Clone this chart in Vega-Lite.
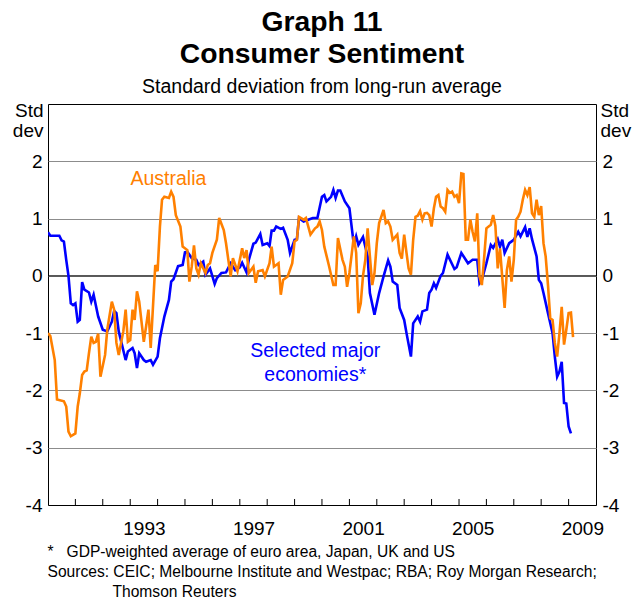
{
"$schema": "https://vega.github.io/schema/vega-lite/v6.json",
"width": 548,
"height": 401,
"autosize": {"type": "none"},
"padding": {"left": 48, "top": 104, "right": 38, "bottom": 93},
"background": "white",
"config": {
  "font": "Liberation Sans",
  "view": {"stroke": "black", "strokeWidth": 1},
  "axis": {"labelColor": "black", "titleColor": "black", "labelFontSize": 19, "titleFontSize": 19, "titleFontWeight": "normal"},
  "axisX": {
    "tickCount": {"interval": "year", "step": 1},
    "labelExpr": "utcyear(datum.value) % 4 == 1 ? '' + utcyear(datum.value) : ''",
    "labelOffset": 13.7,
    "labelOverlap": false,
    "labelFlush": false,
    "labelBound": false,
    "labelFontSize": 19,
    "labelPadding": 14,
    "ticks": false,
    "domainColor": "black",
    "domainWidth": 1,
    "grid": false,
    "titleX": -1,
    "titleY": 51,
    "titleAlign": "left",
    "titleAnchor": "start",
    "titleBaseline": "alphabetic",
    "titleFontSize": 15.6,
    "titleLineHeight": 20
  }
},
"title": {
  "text": ["Graph 11", "Consumer Sentiment"],
  "subtitle": "Standard deviation from long-run average",
  "fontSize": 28.3,
  "fontWeight": "bold",
  "lineHeight": 32,
  "color": "black",
  "subtitleFontSize": 19.5,
  "subtitleColor": "black",
  "subtitlePadding": 8,
  "anchor": "middle",
  "frame": "group",
  "offset": 4
},
"datasets": {
"series": [
{"date":"1990-01","series":"Selected major economies","value":0.76},
{"date":"1990-02","series":"Selected major economies","value":0.70},
{"date":"1990-06","series":"Selected major economies","value":0.70},
{"date":"1990-07","series":"Selected major economies","value":0.62},
{"date":"1990-08","series":"Selected major economies","value":0.60},
{"date":"1990-09","series":"Selected major economies","value":0.28},
{"date":"1990-10","series":"Selected major economies","value":0.0},
{"date":"1990-11","series":"Selected major economies","value":-0.48},
{"date":"1990-12","series":"Selected major economies","value":-0.51},
{"date":"1991-01","series":"Selected major economies","value":-0.48},
{"date":"1991-02","series":"Selected major economies","value":-0.80},
{"date":"1991-03","series":"Selected major economies","value":-0.77},
{"date":"1991-04","series":"Selected major economies","value":-0.11},
{"date":"1991-05","series":"Selected major economies","value":-0.24},
{"date":"1991-07","series":"Selected major economies","value":-0.29},
{"date":"1991-08","series":"Selected major economies","value":-0.45},
{"date":"1991-09","series":"Selected major economies","value":-0.33},
{"date":"1991-11","series":"Selected major economies","value":-0.71},
{"date":"1992-01","series":"Selected major economies","value":-0.94},
{"date":"1992-03","series":"Selected major economies","value":-0.97},
{"date":"1992-05","series":"Selected major economies","value":-0.80},
{"date":"1992-06","series":"Selected major economies","value":-0.61},
{"date":"1992-07","series":"Selected major economies","value":-0.65},
{"date":"1992-08","series":"Selected major economies","value":-0.97},
{"date":"1992-11","series":"Selected major economies","value":-1.47},
{"date":"1992-12","series":"Selected major economies","value":-1.32},
{"date":"1993-02","series":"Selected major economies","value":-1.26},
{"date":"1993-03","series":"Selected major economies","value":-1.35},
{"date":"1993-04","series":"Selected major economies","value":-1.61},
{"date":"1993-05","series":"Selected major economies","value":-1.35},
{"date":"1993-07","series":"Selected major economies","value":-1.47},
{"date":"1993-08","series":"Selected major economies","value":-1.50},
{"date":"1993-10","series":"Selected major economies","value":-1.47},
{"date":"1993-11","series":"Selected major economies","value":-1.55},
{"date":"1994-01","series":"Selected major economies","value":-1.41},
{"date":"1994-02","series":"Selected major economies","value":-1.09},
{"date":"1994-04","series":"Selected major economies","value":-0.71},
{"date":"1994-06","series":"Selected major economies","value":-0.42},
{"date":"1994-07","series":"Selected major economies","value":-0.10},
{"date":"1994-08","series":"Selected major economies","value":-0.06},
{"date":"1994-10","series":"Selected major economies","value":0.17},
{"date":"1994-12","series":"Selected major economies","value":0.19},
{"date":"1995-01","series":"Selected major economies","value":0.41},
{"date":"1995-02","series":"Selected major economies","value":0.42},
{"date":"1995-04","series":"Selected major economies","value":0.31},
{"date":"1995-06","series":"Selected major economies","value":0.28},
{"date":"1995-07","series":"Selected major economies","value":0.19},
{"date":"1995-09","series":"Selected major economies","value":0.25},
{"date":"1995-10","series":"Selected major economies","value":0.02},
{"date":"1995-12","series":"Selected major economies","value":0.13},
{"date":"1996-02","series":"Selected major economies","value":-0.14},
{"date":"1996-03","series":"Selected major economies","value":-0.04},
{"date":"1996-05","series":"Selected major economies","value":0.05},
{"date":"1996-07","series":"Selected major economies","value":0.06},
{"date":"1996-09","series":"Selected major economies","value":0.22},
{"date":"1996-11","series":"Selected major economies","value":0.10},
{"date":"1997-01","series":"Selected major economies","value":0.15},
{"date":"1997-02","series":"Selected major economies","value":0.23},
{"date":"1997-04","series":"Selected major economies","value":0.06},
{"date":"1997-05","series":"Selected major economies","value":0.28},
{"date":"1997-07","series":"Selected major economies","value":0.56},
{"date":"1997-08","series":"Selected major economies","value":0.58},
{"date":"1997-10","series":"Selected major economies","value":0.73},
{"date":"1997-11","series":"Selected major economies","value":0.54},
{"date":"1998-01","series":"Selected major economies","value":0.57},
{"date":"1998-02","series":"Selected major economies","value":0.52},
{"date":"1998-03","series":"Selected major economies","value":0.79},
{"date":"1998-04","series":"Selected major economies","value":0.79},
{"date":"1998-05","series":"Selected major economies","value":0.86},
{"date":"1998-07","series":"Selected major economies","value":0.82},
{"date":"1998-08","series":"Selected major economies","value":0.84},
{"date":"1998-10","series":"Selected major economies","value":0.63},
{"date":"1998-11","series":"Selected major economies","value":0.40},
{"date":"1999-01","series":"Selected major economies","value":0.63},
{"date":"1999-02","series":"Selected major economies","value":0.64},
{"date":"1999-03","series":"Selected major economies","value":1.01},
{"date":"1999-05","series":"Selected major economies","value":0.95},
{"date":"1999-07","series":"Selected major economies","value":0.98},
{"date":"1999-09","series":"Selected major economies","value":1.01},
{"date":"1999-11","series":"Selected major economies","value":1.01},
{"date":"2000-01","series":"Selected major economies","value":1.38},
{"date":"2000-02","series":"Selected major economies","value":1.41},
{"date":"2000-03","series":"Selected major economies","value":1.30},
{"date":"2000-05","series":"Selected major economies","value":1.38},
{"date":"2000-06","series":"Selected major economies","value":1.50},
{"date":"2000-07","series":"Selected major economies","value":1.36},
{"date":"2000-08","series":"Selected major economies","value":1.49},
{"date":"2000-09","series":"Selected major economies","value":1.49},
{"date":"2000-11","series":"Selected major economies","value":1.30},
{"date":"2001-01","series":"Selected major economies","value":1.18},
{"date":"2001-03","series":"Selected major economies","value":0.54},
{"date":"2001-04","series":"Selected major economies","value":0.69},
{"date":"2001-05","series":"Selected major economies","value":0.54},
{"date":"2001-07","series":"Selected major economies","value":0.68},
{"date":"2001-09","series":"Selected major economies","value":0.34},
{"date":"2001-10","series":"Selected major economies","value":-0.30},
{"date":"2001-12","series":"Selected major economies","value":-0.68},
{"date":"2002-02","series":"Selected major economies","value":-0.30},
{"date":"2002-04","series":"Selected major economies","value":-0.01},
{"date":"2002-06","series":"Selected major economies","value":0.27},
{"date":"2002-07","series":"Selected major economies","value":0.16},
{"date":"2002-08","series":"Selected major economies","value":-0.10},
{"date":"2002-10","series":"Selected major economies","value":-0.16},
{"date":"2002-11","series":"Selected major economies","value":-0.56},
{"date":"2003-01","series":"Selected major economies","value":-0.77},
{"date":"2003-02","series":"Selected major economies","value":-1.00},
{"date":"2003-04","series":"Selected major economies","value":-1.41},
{"date":"2003-05","series":"Selected major economies","value":-0.83},
{"date":"2003-07","series":"Selected major economies","value":-0.71},
{"date":"2003-08","series":"Selected major economies","value":-0.80},
{"date":"2003-09","series":"Selected major economies","value":-0.62},
{"date":"2003-11","series":"Selected major economies","value":-0.59},
{"date":"2003-12","series":"Selected major economies","value":-0.30},
{"date":"2004-01","series":"Selected major economies","value":-0.24},
{"date":"2004-02","series":"Selected major economies","value":-0.13},
{"date":"2004-03","series":"Selected major economies","value":-0.21},
{"date":"2004-05","series":"Selected major economies","value":0.00},
{"date":"2004-06","series":"Selected major economies","value":0.05},
{"date":"2004-08","series":"Selected major economies","value":0.37},
{"date":"2004-11","series":"Selected major economies","value":0.12},
{"date":"2004-12","series":"Selected major economies","value":0.15},
{"date":"2005-02","series":"Selected major economies","value":0.40},
{"date":"2005-05","series":"Selected major economies","value":0.22},
{"date":"2005-07","series":"Selected major economies","value":0.28},
{"date":"2005-09","series":"Selected major economies","value":0.28},
{"date":"2005-10","series":"Selected major economies","value":-0.13},
{"date":"2005-11","series":"Selected major economies","value":-0.07},
{"date":"2006-01","series":"Selected major economies","value":0.22},
{"date":"2006-03","series":"Selected major economies","value":0.54},
{"date":"2006-04","series":"Selected major economies","value":0.49},
{"date":"2006-06","series":"Selected major economies","value":0.64},
{"date":"2006-07","series":"Selected major economies","value":0.51},
{"date":"2006-08","series":"Selected major economies","value":0.63},
{"date":"2006-09","series":"Selected major economies","value":0.40},
{"date":"2006-11","series":"Selected major economies","value":0.57},
{"date":"2007-01","series":"Selected major economies","value":0.63},
{"date":"2007-03","series":"Selected major economies","value":0.77},
{"date":"2007-04","series":"Selected major economies","value":0.69},
{"date":"2007-06","series":"Selected major economies","value":0.85},
{"date":"2007-07","series":"Selected major economies","value":0.68},
{"date":"2007-08","series":"Selected major economies","value":0.83},
{"date":"2007-09","series":"Selected major economies","value":0.64},
{"date":"2007-11","series":"Selected major economies","value":0.34},
{"date":"2007-12","series":"Selected major economies","value":-0.07},
{"date":"2008-01","series":"Selected major economies","value":-0.13},
{"date":"2008-02","series":"Selected major economies","value":-0.30},
{"date":"2008-04","series":"Selected major economies","value":-0.65},
{"date":"2008-06","series":"Selected major economies","value":-1.00},
{"date":"2008-07","series":"Selected major economies","value":-1.41},
{"date":"2008-08","series":"Selected major economies","value":-1.76},
{"date":"2008-09","series":"Selected major economies","value":-1.67},
{"date":"2008-10","series":"Selected major economies","value":-1.50},
{"date":"2008-11","series":"Selected major economies","value":-2.22},
{"date":"2008-12","series":"Selected major economies","value":-2.23},
{"date":"2009-01","series":"Selected major economies","value":-2.63},
{"date":"2009-02","series":"Selected major economies","value":-2.75},
{"date":"1990-01","series":"Australia","value":-1.00},
{"date":"1990-02","series":"Australia","value":-1.05},
{"date":"1990-04","series":"Australia","value":-1.47},
{"date":"1990-05","series":"Australia","value":-2.16},
{"date":"1990-08","series":"Australia","value":-2.19},
{"date":"1990-09","series":"Australia","value":-2.28},
{"date":"1990-10","series":"Australia","value":-2.72},
{"date":"1990-11","series":"Australia","value":-2.80},
{"date":"1991-01","series":"Australia","value":-2.75},
{"date":"1991-02","series":"Australia","value":-2.28},
{"date":"1991-03","series":"Australia","value":-2.05},
{"date":"1991-04","series":"Australia","value":-1.73},
{"date":"1991-05","series":"Australia","value":-1.67},
{"date":"1991-06","series":"Australia","value":-1.65},
{"date":"1991-07","series":"Australia","value":-1.35},
{"date":"1991-08","series":"Australia","value":-1.06},
{"date":"1991-09","series":"Australia","value":-1.17},
{"date":"1991-10","series":"Australia","value":-1.15},
{"date":"1991-11","series":"Australia","value":-1.01},
{"date":"1991-12","series":"Australia","value":-1.76},
{"date":"1992-02","series":"Australia","value":-1.38},
{"date":"1992-03","series":"Australia","value":-0.94},
{"date":"1992-05","series":"Australia","value":-0.45},
{"date":"1992-06","series":"Australia","value":-0.59},
{"date":"1992-07","series":"Australia","value":-1.17},
{"date":"1992-08","series":"Australia","value":-1.38},
{"date":"1992-10","series":"Australia","value":-0.97},
{"date":"1992-11","series":"Australia","value":-0.59},
{"date":"1992-12","series":"Australia","value":-1.15},
{"date":"1993-01","series":"Australia","value":-1.12},
{"date":"1993-02","series":"Australia","value":-0.59},
{"date":"1993-03","series":"Australia","value":-0.77},
{"date":"1993-04","series":"Australia","value":-0.27},
{"date":"1993-05","series":"Australia","value":-0.45},
{"date":"1993-07","series":"Australia","value":-1.15},
{"date":"1993-08","series":"Australia","value":-0.88},
{"date":"1993-09","series":"Australia","value":-0.59},
{"date":"1993-10","series":"Australia","value":-1.26},
{"date":"1993-12","series":"Australia","value":0.19},
{"date":"1994-01","series":"Australia","value":0.08},
{"date":"1994-02","series":"Australia","value":0.86},
{"date":"1994-03","series":"Australia","value":1.33},
{"date":"1994-04","series":"Australia","value":1.38},
{"date":"1994-06","series":"Australia","value":1.36},
{"date":"1994-07","series":"Australia","value":1.47},
{"date":"1994-08","series":"Australia","value":1.38},
{"date":"1994-09","series":"Australia","value":1.06},
{"date":"1994-11","series":"Australia","value":0.86},
{"date":"1994-12","series":"Australia","value":0.51},
{"date":"1995-02","series":"Australia","value":0.45},
{"date":"1995-03","series":"Australia","value":-0.10},
{"date":"1995-04","series":"Australia","value":0.16},
{"date":"1995-05","series":"Australia","value":0.53},
{"date":"1995-06","series":"Australia","value":0.13},
{"date":"1995-07","series":"Australia","value":0.02},
{"date":"1995-08","series":"Australia","value":0.22},
{"date":"1995-10","series":"Australia","value":0.05},
{"date":"1995-11","series":"Australia","value":0.19},
{"date":"1995-12","series":"Australia","value":0.22},
{"date":"1996-01","series":"Australia","value":0.40},
{"date":"1996-03","series":"Australia","value":0.63},
{"date":"1996-04","series":"Australia","value":1.01},
{"date":"1996-06","series":"Australia","value":0.80},
{"date":"1996-07","series":"Australia","value":0.57},
{"date":"1996-08","series":"Australia","value":0.28},
{"date":"1996-09","series":"Australia","value":-0.01},
{"date":"1996-10","series":"Australia","value":0.31},
{"date":"1996-12","series":"Australia","value":0.08},
{"date":"1997-01","series":"Australia","value":0.28},
{"date":"1997-02","series":"Australia","value":0.48},
{"date":"1997-03","series":"Australia","value":0.31},
{"date":"1997-04","series":"Australia","value":0.45},
{"date":"1997-05","series":"Australia","value":0.05},
{"date":"1997-07","series":"Australia","value":0.16},
{"date":"1997-08","series":"Australia","value":-0.12},
{"date":"1997-09","series":"Australia","value":0.08},
{"date":"1997-11","series":"Australia","value":0.10},
{"date":"1997-12","series":"Australia","value":-0.01},
{"date":"1998-02","series":"Australia","value":0.22},
{"date":"1998-03","series":"Australia","value":0.51},
{"date":"1998-04","series":"Australia","value":0.16},
{"date":"1998-06","series":"Australia","value":0.22},
{"date":"1998-07","series":"Australia","value":-0.33},
{"date":"1998-08","series":"Australia","value":-0.07},
{"date":"1998-10","series":"Australia","value":-0.01},
{"date":"1998-12","series":"Australia","value":0.22},
{"date":"1999-01","series":"Australia","value":0.60},
{"date":"1999-02","series":"Australia","value":0.63},
{"date":"1999-03","series":"Australia","value":1.03},
{"date":"1999-05","series":"Australia","value":0.98},
{"date":"1999-06","series":"Australia","value":1.01},
{"date":"1999-08","series":"Australia","value":0.72},
{"date":"1999-10","series":"Australia","value":0.83},
{"date":"1999-11","series":"Australia","value":0.86},
{"date":"1999-12","series":"Australia","value":0.95},
{"date":"2000-01","series":"Australia","value":0.80},
{"date":"2000-02","series":"Australia","value":0.51},
{"date":"2000-04","series":"Australia","value":0.19},
{"date":"2000-06","series":"Australia","value":-0.16},
{"date":"2000-07","series":"Australia","value":-0.16},
{"date":"2000-08","series":"Australia","value":0.66},
{"date":"2000-10","series":"Australia","value":0.28},
{"date":"2000-11","series":"Australia","value":0.16},
{"date":"2000-12","series":"Australia","value":-0.19},
{"date":"2001-01","series":"Australia","value":0.05},
{"date":"2001-03","series":"Australia","value":0.69},
{"date":"2001-04","series":"Australia","value":0.40},
{"date":"2001-05","series":"Australia","value":-0.65},
{"date":"2001-06","series":"Australia","value":-0.48},
{"date":"2001-07","series":"Australia","value":0.00},
{"date":"2001-08","series":"Australia","value":0.28},
{"date":"2001-09","series":"Australia","value":0.83},
{"date":"2001-10","series":"Australia","value":0.34},
{"date":"2001-11","series":"Australia","value":-0.16},
{"date":"2001-12","series":"Australia","value":0.05},
{"date":"2002-01","series":"Australia","value":0.57},
{"date":"2002-02","series":"Australia","value":0.92},
{"date":"2002-04","series":"Australia","value":1.15},
{"date":"2002-05","series":"Australia","value":0.92},
{"date":"2002-06","series":"Australia","value":0.95},
{"date":"2002-07","series":"Australia","value":0.86},
{"date":"2002-08","series":"Australia","value":0.63},
{"date":"2002-10","series":"Australia","value":0.72},
{"date":"2002-11","series":"Australia","value":0.40},
{"date":"2002-12","series":"Australia","value":0.30},
{"date":"2003-01","series":"Australia","value":0.72},
{"date":"2003-02","series":"Australia","value":0.40},
{"date":"2003-03","series":"Australia","value":0.13},
{"date":"2003-04","series":"Australia","value":0.02},
{"date":"2003-05","series":"Australia","value":0.63},
{"date":"2003-06","series":"Australia","value":1.03},
{"date":"2003-07","series":"Australia","value":1.05},
{"date":"2003-08","series":"Australia","value":1.13},
{"date":"2003-09","series":"Australia","value":0.98},
{"date":"2003-10","series":"Australia","value":1.09},
{"date":"2003-11","series":"Australia","value":1.10},
{"date":"2003-12","series":"Australia","value":1.06},
{"date":"2004-01","series":"Australia","value":0.86},
{"date":"2004-02","series":"Australia","value":1.18},
{"date":"2004-03","series":"Australia","value":1.38},
{"date":"2004-04","series":"Australia","value":1.41},
{"date":"2004-05","series":"Australia","value":1.21},
{"date":"2004-06","series":"Australia","value":1.18},
{"date":"2004-07","series":"Australia","value":1.12},
{"date":"2004-08","series":"Australia","value":1.50},
{"date":"2004-09","series":"Australia","value":1.45},
{"date":"2004-10","series":"Australia","value":1.47},
{"date":"2004-11","series":"Australia","value":1.38},
{"date":"2004-12","series":"Australia","value":1.41},
{"date":"2005-01","series":"Australia","value":1.27},
{"date":"2005-02","series":"Australia","value":1.79},
{"date":"2005-03","series":"Australia","value":1.78},
{"date":"2005-04","series":"Australia","value":0.63},
{"date":"2005-05","series":"Australia","value":0.63},
{"date":"2005-06","series":"Australia","value":0.98},
{"date":"2005-07","series":"Australia","value":0.77},
{"date":"2005-08","series":"Australia","value":0.60},
{"date":"2005-09","series":"Australia","value":1.09},
{"date":"2005-10","series":"Australia","value":-0.01},
{"date":"2005-11","series":"Australia","value":-0.16},
{"date":"2005-12","series":"Australia","value":0.30},
{"date":"2006-01","series":"Australia","value":0.83},
{"date":"2006-03","series":"Australia","value":0.89},
{"date":"2006-04","series":"Australia","value":1.06},
{"date":"2006-05","series":"Australia","value":0.87},
{"date":"2006-06","series":"Australia","value":0.13},
{"date":"2006-07","series":"Australia","value":0.48},
{"date":"2006-08","series":"Australia","value":-0.04},
{"date":"2006-09","series":"Australia","value":-0.56},
{"date":"2006-10","series":"Australia","value":0.10},
{"date":"2006-11","series":"Australia","value":0.34},
{"date":"2006-12","series":"Australia","value":-0.10},
{"date":"2007-01","series":"Australia","value":0.28},
{"date":"2007-02","series":"Australia","value":0.98},
{"date":"2007-03","series":"Australia","value":1.03},
{"date":"2007-04","series":"Australia","value":1.12},
{"date":"2007-05","series":"Australia","value":1.33},
{"date":"2007-06","series":"Australia","value":1.50},
{"date":"2007-07","series":"Australia","value":1.41},
{"date":"2007-08","series":"Australia","value":1.55},
{"date":"2007-09","series":"Australia","value":1.09},
{"date":"2007-10","series":"Australia","value":1.03},
{"date":"2007-11","series":"Australia","value":1.33},
{"date":"2007-12","series":"Australia","value":1.06},
{"date":"2008-01","series":"Australia","value":1.22},
{"date":"2008-02","series":"Australia","value":0.57},
{"date":"2008-03","series":"Australia","value":0.34},
{"date":"2008-04","series":"Australia","value":-0.16},
{"date":"2008-05","series":"Australia","value":-0.74},
{"date":"2008-06","series":"Australia","value":-0.77},
{"date":"2008-07","series":"Australia","value":-1.17},
{"date":"2008-08","series":"Australia","value":-1.41},
{"date":"2008-09","series":"Australia","value":-1.00},
{"date":"2008-10","series":"Australia","value":-0.54},
{"date":"2008-11","series":"Australia","value":-1.20},
{"date":"2008-12","series":"Australia","value":-0.94},
{"date":"2009-01","series":"Australia","value":-0.65},
{"date":"2009-02","series":"Australia","value":-0.64},
{"date":"2009-03","series":"Australia","value":-1.07}
],
"labels": [
{"date":"1994-05-25","value":1.59,"label":"Australia","series":"Australia"},
{"date":"1999-10-04","value":-1.414,"label":"Selected major","series":"Selected major economies"},
{"date":"1999-10-04","value":-1.832,"label":"economies*","series":"Selected major economies"}
],
"years": [
{"date":"1991-01-01"},{"date":"1992-01-01"},{"date":"1993-01-01"},{"date":"1994-01-01"},{"date":"1995-01-01"},
{"date":"1996-01-01"},{"date":"1997-01-01"},{"date":"1998-01-01"},{"date":"1999-01-01"},{"date":"2000-01-01"},
{"date":"2001-01-01"},{"date":"2002-01-01"},{"date":"2003-01-01"},{"date":"2004-01-01"},{"date":"2005-01-01"},
{"date":"2006-01-01"},{"date":"2007-01-01"},{"date":"2008-01-01"},{"date":"2009-01-01"}
],
"zero": [{"ref": 0}]
},
"layer": [
{
  "data": {"name": "zero"},
  "mark": {"type": "rule", "color": "black", "strokeWidth": 1},
  "encoding": {
    "y": {"field": "ref", "type": "quantitative", "scale": {"domain": [-4, 3], "nice": false, "zero": false}, "axis": null}
  }
},
{
  "data": {"name": "years"},
  "mark": {"type": "rule", "color": "black", "strokeWidth": 1},
  "encoding": {
    "x": {
      "field": "date", "type": "temporal",
      "title": ["*\u00a0\u00a0 GDP-weighted average of euro area, Japan, UK and US", "Sources: CEIC; Melbourne Institute and Westpac; RBA; Roy Morgan Research;", "\u200b\u00a0\u00a0\u00a0\u00a0\u00a0\u00a0\u00a0\u00a0\u00a0\u00a0\u00a0\u00a0\u00a0\u00a0\u00a0Thomson Reuters"]
    },
    "y": {"datum": -4, "type": "quantitative", "axis": null},
    "y2": {"datum": -3.895}
  }
},
{
  "data": {"name": "series"},
  "mark": {"type": "line", "strokeWidth": 2.6, "clip": true},
  "encoding": {
    "x": {
      "field": "date", "type": "temporal",
      "scale": {"type": "utc", "domain": [{"year": 1990, "month": 1, "date": 1, "utc": true}, {"year": 2010, "month": 1, "date": 1, "utc": true}], "nice": false},
      "title": ["*\u00a0\u00a0 GDP-weighted average of euro area, Japan, UK and US", "Sources: CEIC; Melbourne Institute and Westpac; RBA; Roy Morgan Research;", "\u200b\u00a0\u00a0\u00a0\u00a0\u00a0\u00a0\u00a0\u00a0\u00a0\u00a0\u00a0\u00a0\u00a0\u00a0\u00a0Thomson Reuters"]
    },
    "y": {
      "field": "value", "type": "quantitative",
      "scale": {"domain": [-4, 3], "nice": false, "zero": false},
      "axis": {
        "values": [-4, -3, -2, -1, 0, 1, 2],
        "labelExpr": "'' + datum.value",
        "ticks": false,
        "domain": false,
        "grid": true,
        "gridColor": "#8c8c8c",
        "gridWidth": 1,
        "labelPadding": 6,
        "labelFontSize": 19,
        "title": ["Std", "dev"],
        "titleAngle": 0,
        "titleAlign": "right",
        "titleBaseline": "alphabetic",
        "titleX": -5,
        "titleY": 12,
        "titleLineHeight": 20,
        "titleFontSize": 19
      }
    },
    "color": {
      "field": "series", "type": "nominal",
      "scale": {"domain": ["Selected major economies", "Australia"], "range": ["#0000ff", "#ff8000"]},
      "legend": null
    }
  }
},
{
  "data": {"name": "labels"},
  "mark": {"type": "text", "fontSize": 19.5, "align": "center", "baseline": "alphabetic"},
  "encoding": {
    "x": {
      "field": "date", "type": "temporal",
      "title": ["*\u00a0\u00a0 GDP-weighted average of euro area, Japan, UK and US", "Sources: CEIC; Melbourne Institute and Westpac; RBA; Roy Morgan Research;", "\u200b\u00a0\u00a0\u00a0\u00a0\u00a0\u00a0\u00a0\u00a0\u00a0\u00a0\u00a0\u00a0\u00a0\u00a0\u00a0Thomson Reuters"]
    },
    "y": {
      "field": "value", "type": "quantitative",
      "axis": {
        "orient": "right",
        "values": [-4, -3, -2, -1, 0, 1, 2],
        "labelExpr": "'' + datum.value",
        "ticks": false,
        "domain": false,
        "grid": false,
        "labelPadding": 6,
        "labelFontSize": 19,
        "title": ["Std", "dev"],
        "titleAngle": 0,
        "titleAlign": "left",
        "titleBaseline": "alphabetic",
        "titleX": 4,
        "titleY": 12,
        "titleLineHeight": 20,
        "titleFontSize": 19
      }
    },
    "text": {"field": "label"},
    "color": {"field": "series", "type": "nominal", "legend": null}
  }
}
],
"resolve": {"axis": {"y": "independent"}}
}
